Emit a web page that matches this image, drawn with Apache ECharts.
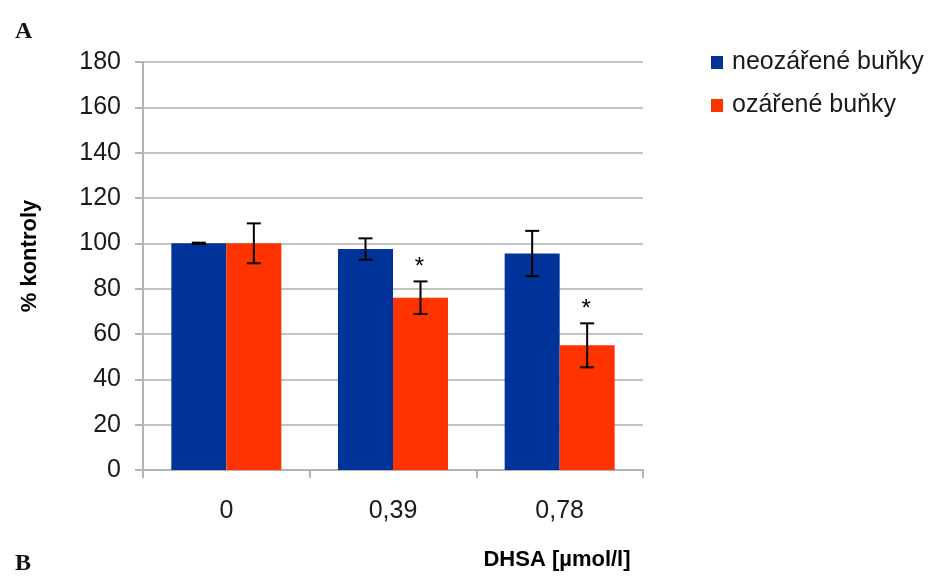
<!DOCTYPE html>
<html>
<head>
<meta charset="utf-8">
<script src="https://cdn.jsdelivr.net/npm/echarts@6/dist/echarts.min.js"></script>
<style>
  html, body { margin: 0; padding: 0; background: #fff; }
  #chart { width: 936px; height: 577px; }
</style>
</head>
<body>
<div id="chart"></div>
<script>
// DHSA concentrations (µmol/l)
const categories = ['0', '0,39', '0,78'];
const seriesNames = ['neozářené buňky', 'ozářené buňky'];
// mean % of control
const nonIrradiated = [100, 97.5, 95.5];
const irradiated = [100, 76, 55];
// error bar half-widths
const nonIrradiatedErr = [0.3, 4.7, 10];
const irradiatedErr = [8.8, 7.2, 9.7];
// significance markers (*)
const nonIrradiatedSig = [false, false, false];
const irradiatedSig = [false, true, true];
const yTicks = { min: 0, max: 180, interval: 20 };

const colors = ['#003399', '#ff3300'];
const CAT_GAP = 0.34;
const FONT = '"Liberation Sans", Arial, sans-serif';

// Error bars + asterisks drawn over bar `slot` (0 = left, 1 = right)
function errorSeries(values, errs, sigs, slot) {
  return {
    type: 'custom',
    z: 10,
    silent: true,
    data: values.map((v, i) => [i, v, errs[i], sigs[i] ? 1 : 0]),
    renderItem: function (params, api) {
      const idx = api.value(0);
      const v = api.value(1);
      const e = api.value(2);
      const catW = api.size([1, 0])[0];
      const barW = catW * (1 - CAT_GAP) / 2;
      const center = api.coord([idx, v]);
      const x = center[0] + (slot === 0 ? -barW / 2 : barW / 2);
      const top = api.coord([idx, v + e])[1];
      const bot = api.coord([idx, v - e])[1];
      const cap = 7;
      const stroke = { stroke: '#000', lineWidth: 2 };
      const children = [
        { type: 'line', shape: { x1: x, y1: top, x2: x, y2: bot }, style: stroke },
        { type: 'line', shape: { x1: x - cap, y1: top, x2: x + cap, y2: top }, style: stroke },
        { type: 'line', shape: { x1: x - cap, y1: bot, x2: x + cap, y2: bot }, style: stroke }
      ];
      if (api.value(3)) {
        children.push({
          type: 'text',
          style: {
            text: '*', x: x - 1, y: top - 14,
            align: 'center', verticalAlign: 'middle',
            font: '24px ' + FONT, fill: '#000'
          }
        });
      }
      return { type: 'group', children: children };
    }
  };
}

const chart = echarts.init(document.getElementById('chart'), null, { renderer: 'canvas' });
chart.setOption({
  backgroundColor: '#fff',
  animation: false,
  grid: { left: 143, right: 293, top: 62, bottom: 107, containLabel: false },
  legend: {
    data: seriesNames,
    orient: 'vertical',
    left: 711,
    top: 50,
    padding: 0,
    itemWidth: 12,
    itemHeight: 13,
    itemGap: 18,
    icon: 'rect',
    textStyle: { fontFamily: FONT, fontSize: 25, color: '#1a1a1a', padding: [0, 0, 0, 4] }
  },
  xAxis: {
    type: 'category',
    data: categories,
    axisLine: { lineStyle: { color: '#b4b4b4', width: 2 } },
    axisTick: { show: true, length: 8, lineStyle: { color: '#b4b4b4', width: 2 } },
    axisLabel: { margin: 29, fontFamily: FONT, fontSize: 25, color: '#1a1a1a' },
    splitLine: { show: false }
  },
  yAxis: {
    type: 'value',
    min: yTicks.min,
    max: yTicks.max,
    interval: yTicks.interval,
    axisLine: { show: true, lineStyle: { color: '#b4b4b4', width: 2 } },
    axisTick: { show: true, length: 8, lineStyle: { color: '#b4b4b4', width: 2 } },
    axisLabel: { margin: 22, fontFamily: FONT, fontSize: 25, color: '#1a1a1a' },
    splitLine: { lineStyle: { color: '#c4c4c4', width: 2 } }
  },
  series: [
    {
      name: seriesNames[0], type: 'bar', data: nonIrradiated,
      barGap: 0, barCategoryGap: (CAT_GAP * 100) + '%',
      itemStyle: { color: colors[0] }
    },
    {
      name: seriesNames[1], type: 'bar', data: irradiated,
      barGap: 0, barCategoryGap: (CAT_GAP * 100) + '%',
      itemStyle: { color: colors[1] }
    },
    errorSeries(nonIrradiated, nonIrradiatedErr, nonIrradiatedSig, 0),
    errorSeries(irradiated, irradiatedErr, irradiatedSig, 1)
  ],
  graphic: [
    { type: 'text', left: 15, top: 20, style: { text: 'A', font: 'bold 24px "Liberation Serif", serif', fill: '#111' } },
    { type: 'text', left: 15, top: 552, style: { text: 'B', font: 'bold 24px "Liberation Serif", serif', fill: '#111' } },
    {
      type: 'text', x: 30, y: 256, rotation: Math.PI / 2,
      style: { text: '% kontroly', font: 'bold 22px ' + FONT, fill: '#000', align: 'center', verticalAlign: 'middle' }
    },
    {
      type: 'text', x: 557, y: 560,
      style: { text: 'DHSA [µmol/l]', font: 'bold 22px ' + FONT, fill: '#000', align: 'center', verticalAlign: 'middle' }
    }
  ]
});
</script>
</body>
</html>
